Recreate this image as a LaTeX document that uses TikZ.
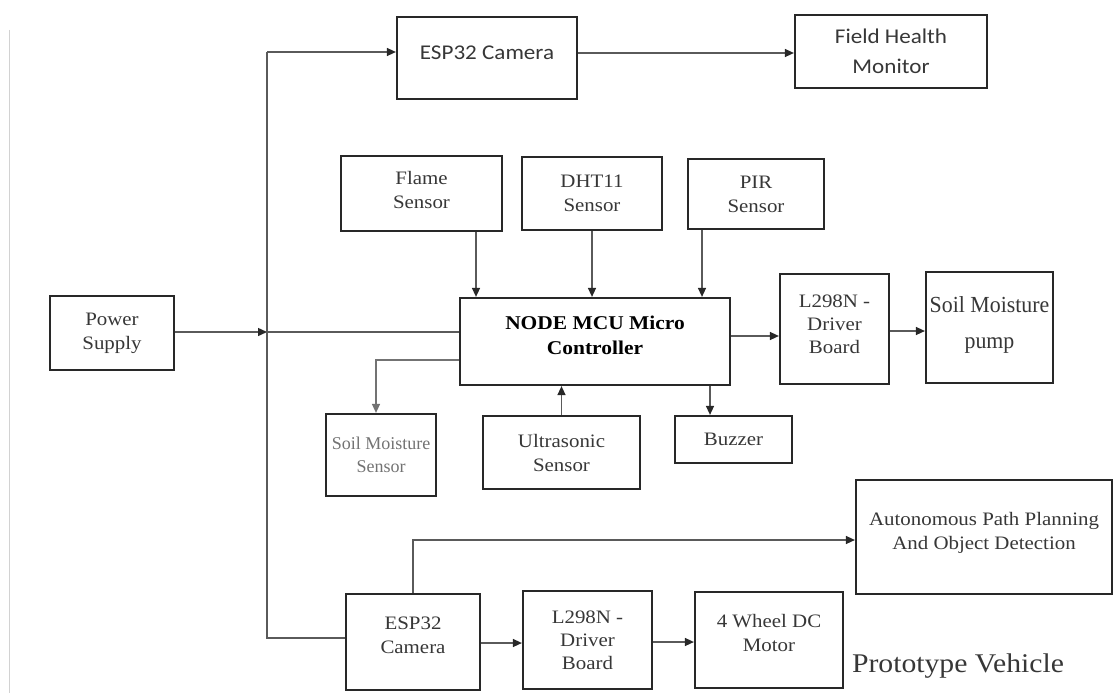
\documentclass[tikz,border=0pt]{standalone}
\usepackage{fontspec}
\setmainfont[FakeStretch=1.1]{Liberation Serif}
\newfontfamily\plainserif{Liberation Serif}
\newfontfamily\narrowserif[FakeStretch=0.95]{Liberation Serif}
\newfontfamily\calibrifont[FakeStretch=1.1]{Carlito}
\usetikzlibrary{arrows.meta,positioning}
\definecolor{BoxLine}{RGB}{40,40,40}
\definecolor{WireGray}{RGB}{90,90,90}
\definecolor{TextGray}{RGB}{55,55,55}
\definecolor{SoftGray}{RGB}{115,115,115}
\tikzset{
  block/.style={draw=BoxLine,line width=2.2pt,fill=white,align=center,inner sep=0pt,
    text=TextGray,font=\fontsize{19}{24}\selectfont},
  camblock/.style={block,font=\calibrifont\fontsize{21}{30}\selectfont},
  wire/.style={draw=WireGray,line width=1.4pt},
  arrow/.style={wire,-{Triangle[length=9pt,width=8pt,color=BoxLine]}},
  softarrow/.style={wire,draw=SoftGray,-{Triangle[length=9pt,width=8pt]}}
}
\begin{document}
\begin{tikzpicture}[x=1pt,y=-1pt]
  \useasboundingbox (0,0) rectangle (1115,693);
  \draw[gray!35,line width=1pt] (9,30) -- (9,693);
  % power and camera branch
  \node[block,minimum width=124pt,minimum height=74pt] (ps) at (112,333) {Power\\Supply};
  \node[camblock,minimum width=180pt,minimum height=82pt] (cam1) at (487,58) {ESP32 Camera\\[-20pt]};
  \node[camblock,minimum width=192pt,minimum height=73pt] (fhm) at (891,51.5) {Field Health\\Monitor};
  % sensors
  \node[block,minimum width=161pt,minimum height=75pt] (flame) at (421.5,193.5) {Flame\\Sensor\\[-16pt]};
  \node[block,minimum width=140pt,minimum height=73pt] (dht) at (592,193.5) {DHT11\\Sensor};
  \node[block,minimum width=136pt,minimum height=70pt] (pir) at (756,194) {PIR\\Sensor};
  \node[block,minimum width=270pt,minimum height=87pt,font=\bfseries\fontsize{19.5}{25}\selectfont,
    text=black] (mcu) at (595,341.5) {NODE MCU Micro\\Controller\\[-13pt]};
  \node[block,minimum width=109pt,minimum height=110pt,font=\fontsize{19}{23}\selectfont]
    (drva) at (834.5,329) {L298N -\\Driver\\Board\\[-13pt]};
  \node[block,minimum width=127pt,minimum height=111pt,font=\narrowserif\fontsize{23}{36}\selectfont]
    (pump) at (989.5,327.5) {Soil Moisture\\pump\\[-26pt]};
  \node[block,minimum width=110pt,minimum height=82pt,text=SoftGray,
    font=\plainserif\fontsize{18}{23}\selectfont] (soil) at (381,455) {Soil Moisture\\Sensor};
  \node[block,minimum width=157pt,minimum height=73pt] (ultra) at (561.5,452.5) {Ultrasonic\\Sensor};
  \node[block,minimum width=117pt,minimum height=47pt] (buzz) at (733.5,439.5) {Buzzer};
  % prototype vehicle
  \node[block,minimum width=256pt,minimum height=114pt] (apd) at (984,537)
    {Autonomous Path Planning\\And Object Detection\\[-12pt]};
  \node[block,minimum width=134pt,minimum height=96pt] (cam2) at (413,642) {ESP32\\Camera\\[-10pt]};
  \node[block,minimum width=129pt,minimum height=98pt,font=\fontsize{19}{23}\selectfont]
    (drvb) at (587.5,640) {L298N -\\Driver\\Board};
  \node[block,minimum width=148pt,minimum height=96pt] (motor) at (769,640) {4 Wheel DC\\Motor\\[-10pt]};
  \node[text=TextGray,font=\fontsize{27}{30}\selectfont] (proto) at (958,666) {Prototype Vehicle};
  % supply rail
  \coordinate (jt) at (267,52);
  \coordinate (jp) at (267,332);
  \coordinate (jb) at (267,638);
  \draw[arrow] (ps.east |- jp) -- (jp);
  \draw[wire] (jp) -- (jp -| mcu.west);
  \draw[wire] (jt) -- (jb) -- (jb -| cam2.west);
  \draw[arrow] (jt) -- (jt -| cam1.west);
  \draw[arrow] ([yshift=5pt]cam1.east) -- ([yshift=5pt]cam1.east -| fhm.west);
  % into and out of the controller
  \draw[arrow] ([xshift=54.5pt]flame.south) -- ([xshift=54.5pt]flame.south |- mcu.north);
  \draw[arrow] (dht.south) -- (dht.south |- mcu.north);
  \draw[arrow] ([xshift=-54pt]pir.south) -- ([xshift=-54pt]pir.south |- mcu.north);
  \draw[arrow] ([yshift=5.5pt]mcu.east) -- ([yshift=5.5pt]mcu.east -| drva.west);
  \draw[arrow] ([yshift=-2pt]drva.east) -- ([yshift=-2pt]drva.east -| pump.west);
  \draw[softarrow] ([yshift=-18.5pt]mcu.west) -| ([xshift=-5pt]soil.north);
  \draw[arrow] (ultra.north) -- (ultra.north |- mcu.south);
  \draw[arrow] ([xshift=-23.5pt]buzz.north |- mcu.south) -- ([xshift=-23.5pt]buzz.north);
  % vehicle chain
  \draw[arrow] (cam2.north) |- ([yshift=-3pt]apd.west);
  \draw[arrow] ([yshift=-1pt]cam2.east) -- ([yshift=-1pt]cam2.east -| drvb.west);
  \draw[arrow] ([yshift=-2pt]drvb.east) -- ([yshift=-2pt]drvb.east -| motor.west);
\end{tikzpicture}
\end{document}
